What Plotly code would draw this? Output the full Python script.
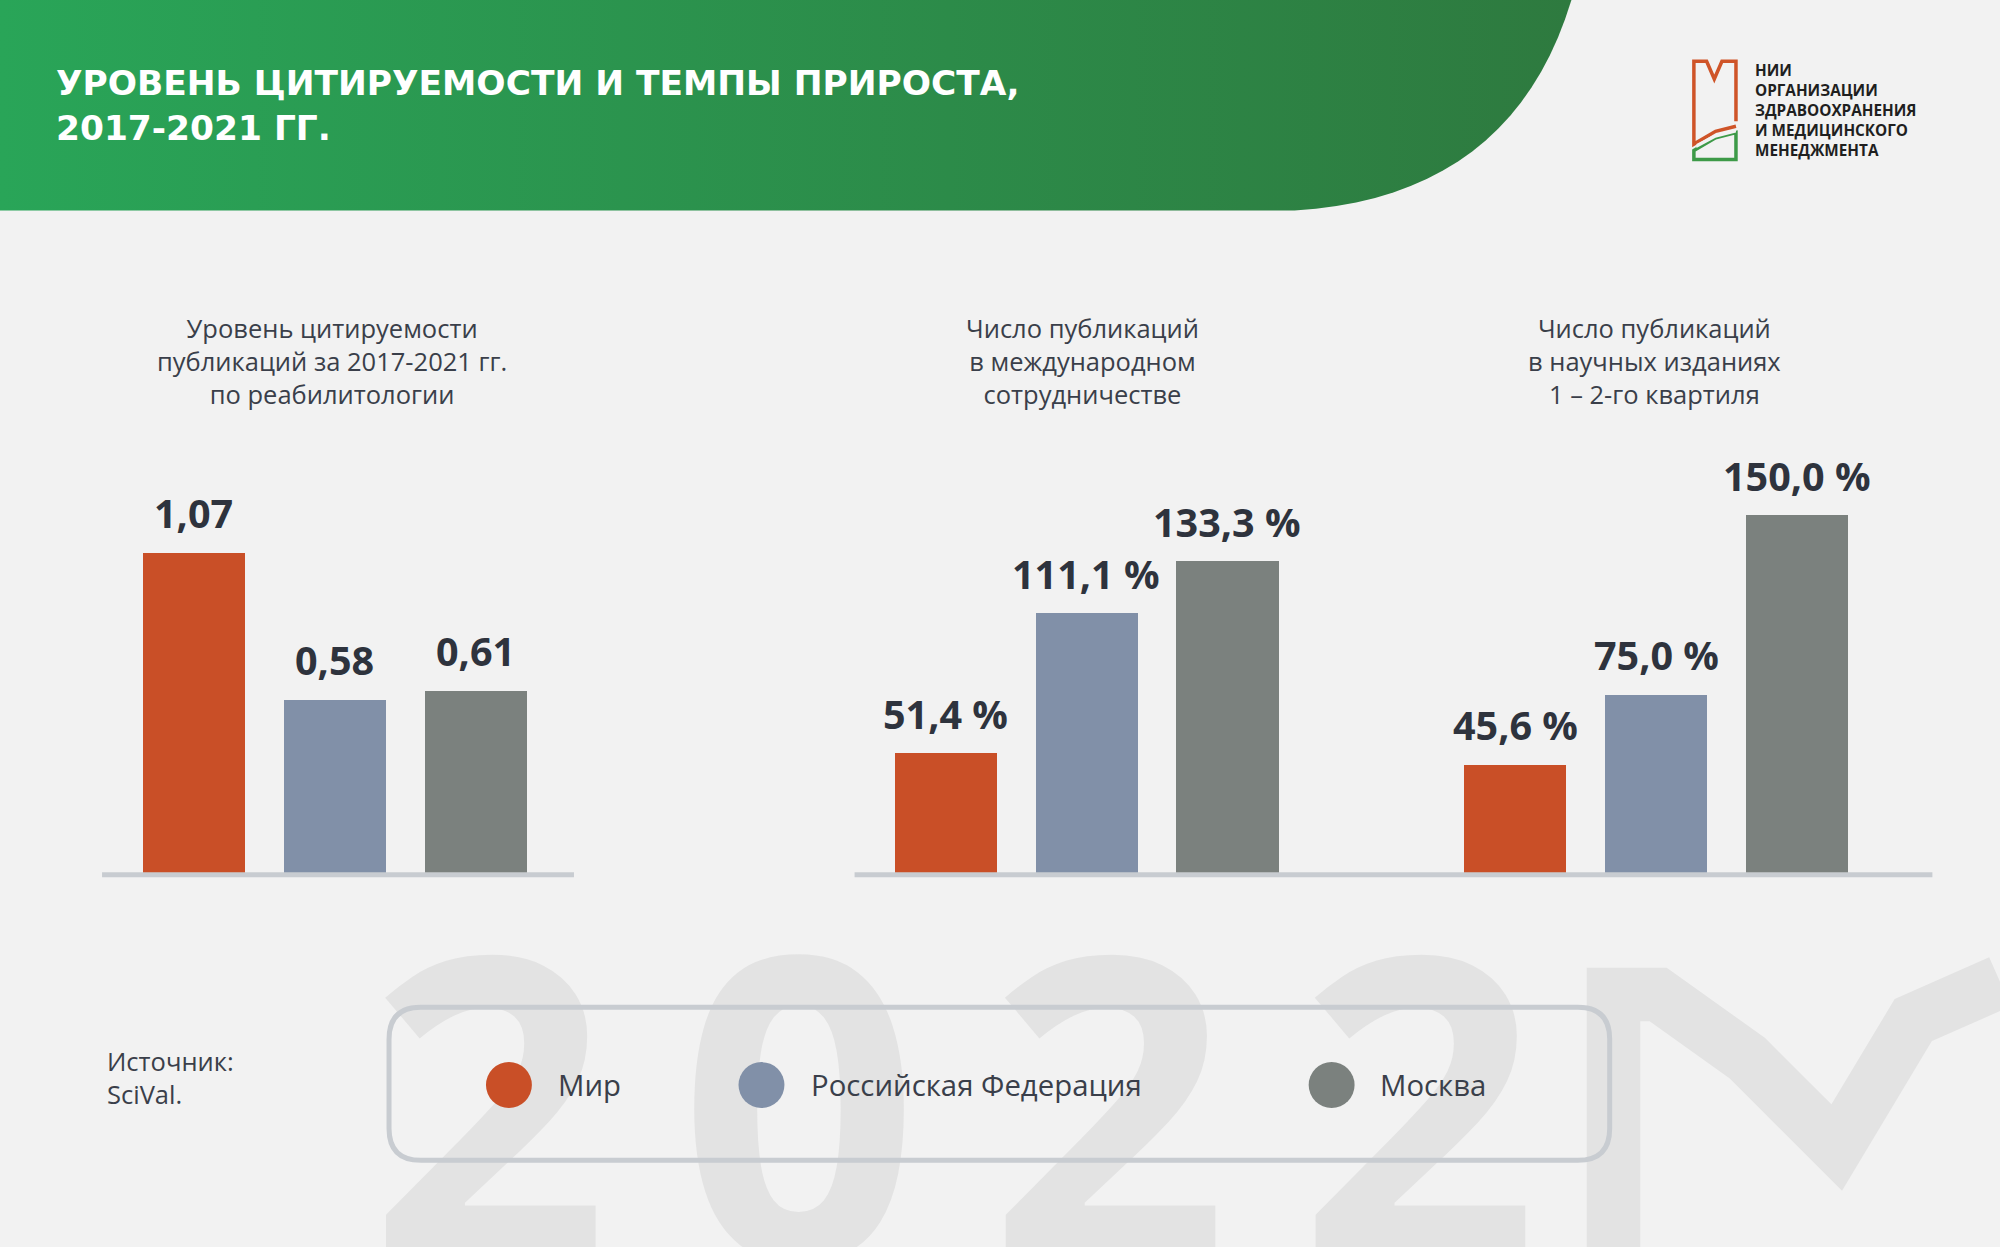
import plotly.graph_objects as go

# ---- data ----
series = ["Мир", "Российская Федерация", "Москва"]
colors = ["#c94f27", "#8190a8", "#7b817e"]
citation = [1.07, 0.58, 0.61]
citation_labels = ["1,07", "0,58", "0,61"]
intl = [51.4, 111.1, 133.3]
intl_labels = ["51,4 %", "111,1 %", "133,3 %"]
q12 = [45.6, 75.0, 150.0]
q12_labels = ["45,6 %", "75,0 %", "150,0 %"]
panel_titles = [
    "Уровень цитируемости<br>публикаций за 2017-2021 гг.<br>по реабилитологии",
    "Число публикаций<br>в международном<br>сотрудничестве",
    "Число публикаций<br>в научных изданиях<br>1 – 2-го квартиля",
]

W, H = 1568.0, 978.0
S = 2000 / W
FONT = "Open Sans"
DARK = "#2e333d"

fig = go.Figure()

pts = [(0, 0), (1232, 0)]
for i in range(1, 21):
    t = i / 20
    x = (1 - t) ** 2 * 1232 + 2 * (1 - t) * t * 1185 + t ** 2 * 1015
    y = 2 * (1 - t) * t * 155 + t ** 2 * 165
    pts.append((x, y))
pts += [(0, 165), (0, 0)]
fig.add_trace(go.Scatter(
    x=[p[0] for p in pts], y=[p[1] for p in pts], mode="lines", line=dict(width=0),
    fill="toself",
    fillgradient=dict(type="horizontal", colorscale=[[0, "#29a558"], [1, "#2e7a3f"]]),
    xaxis="x4", yaxis="y4", hoverinfo="skip", showlegend=False))

# watermark
fig.add_trace(go.Scatter(
    x=[748], y=[905], mode="text", text=["2\u20090\u20092\u20092"],
    textfont=dict(family="Open Sans", size=int(330 * S), color="#e3e3e3", weight="bold"),
    xaxis="x4", yaxis="y4", hoverinfo="skip", showlegend=False))
fig.add_trace(go.Scatter(
    x=[1265, 1265, 1300, 1370, 1440, 1500, 1568],
    y=[990, 780, 780, 830, 900, 800, 770], mode="lines",
    line=dict(color="#e3e3e3", width=42 * S),
    xaxis="x4", yaxis="y4", hoverinfo="skip", showlegend=False))

panels = [
    (citation, citation_labels, "x", "y"),
    (intl, intl_labels, "x2", "y2"),
    (q12, q12_labels, "x3", "y3"),
]
ann = []
for vals, labs, xa, ya in panels:
    fig.add_trace(go.Bar(
        x=[0, 1, 2], y=vals, width=0.724,
        marker=dict(color=colors, line=dict(width=0)),
        xaxis=xa, yaxis=ya, hoverinfo="skip", showlegend=False))
    for i, (v, l) in enumerate(zip(vals, labs)):
        ann.append(dict(xref=xa, yref=ya, x=i, y=v, text=l, showarrow=False,
                        xanchor="center", yanchor="bottom", yshift=10,
                        font=dict(family=FONT, size=31 * S, color=DARK, weight="bold")))

base_y = 1 - 685 / H
top_y = 1 - 340 / H
ax_common = dict(showgrid=False, zeroline=False, showticklabels=False, showline=False, fixedrange=True)
fig.update_layout(
    width=2000, height=1247, margin=dict(l=0, r=0, t=0, b=0),
    paper_bgcolor="#f2f2f2", plot_bgcolor="rgba(0,0,0,0)",
    bargap=0,
    xaxis=dict(domain=[80 / W, 450 / W], range=[-0.652, 2.697], **ax_common),
    yaxis=dict(domain=[base_y, top_y], range=[0, 1.465], **ax_common),
    xaxis2=dict(domain=[670 / W, 1090 / W], range=[-0.643, 3.158], **ax_common),
    yaxis2=dict(domain=[base_y, top_y], range=[0, 187.5], **ax_common),
    xaxis3=dict(domain=[1100 / W, 1515 / W], range=[-0.796, 2.96], **ax_common),
    yaxis3=dict(domain=[base_y, top_y], range=[0, 184], **ax_common),
    xaxis4=dict(domain=[0, 1], range=[0, W], **ax_common),
    yaxis4=dict(domain=[0, 1], range=[H, 0], **ax_common),
)

shapes = []
line_col = "#c8ccd1"
shapes.append(dict(type="line", xref="x4", yref="y4", x0=80, x1=450, y0=686, y1=686,
                   line=dict(color=line_col, width=5)))
shapes.append(dict(type="line", xref="x4", yref="y4", x0=670, x1=1515, y0=686, y1=686,
                   line=dict(color=line_col, width=5)))
x0, y0, x1, y1, r = 305, 790, 1262, 910, 25
path = (f"M{x0+r},{y0} L{x1-r},{y0} Q{x1},{y0} {x1},{y0+r} L{x1},{y1-r} Q{x1},{y1} {x1-r},{y1} "
        f"L{x0+r},{y1} Q{x0},{y1} {x0},{y1-r} L{x0},{y0+r} Q{x0},{y0} {x0+r},{y0} Z")
shapes.append(dict(type="path", xref="x4", yref="y4", path=path, layer="above",
                   line=dict(color="#c8ccd1", width=5), fillcolor="rgba(0,0,0,0)"))
for cx, c in zip([399, 597, 1044], colors):
    shapes.append(dict(type="circle", xref="x4", yref="y4", x0=cx - 18, x1=cx + 18, y0=833, y1=869,
                       fillcolor=c, line=dict(width=0), layer="above"))
shapes.append(dict(type="path", xref="x4", yref="y4", layer="above",
                   path="M1361,95 L1361,48 L1350,48 L1344,62 L1338,48 L1328,48 L1328,113 L1345,103 L1361,99",
                   line=dict(color="#cf5428", width=3.5), fillcolor="rgba(0,0,0,0)"))
shapes.append(dict(type="path", xref="x4", yref="y4", layer="above",
                   path="M1328,125 L1328,118 L1345,108 L1361,104 L1361,125 Z",
                   line=dict(color="#3d9a48", width=3.5), fillcolor="rgba(0,0,0,0)"))
shapes.append(dict(type="path", xref="x4", yref="y4", layer="above",
                   path="M1330,113 L1345,105 L1361,101 L1361,104 L1345,108 L1330,116 Z",
                   line=dict(width=0), fillcolor="#f2f2f2"))
fig.update_layout(shapes=shapes)

def A(x, y, text, size, color=DARK, bold=False, xanchor="left", align="left", family=FONT):
    ann.append(dict(xref="x4", yref="y4", x=x, y=y, text=text, showarrow=False,
                    xanchor=xanchor, yanchor="middle", align=align,
                    font=dict(family=family, size=size * S, color=color, weight="bold" if bold else "normal")))

A(42, 83, "УРОВЕНЬ ЦИТИРУЕМОСТИ И ТЕМПЫ ПРИРОСТА,<br>2017-2021 ГГ.", 27, color="white", bold=True,
  family="DejaVu Sans")
A(1374, 86, "НИИ<br>ОРГАНИЗАЦИИ<br>ЗДРАВООХРАНЕНИЯ<br>И МЕДИЦИНСКОГО<br>МЕНЕДЖМЕНТА", 12, color="#1f1f1f", bold=True)
for cx, t in zip([260, 849, 1297], panel_titles):
    A(cx, 283, t, 20, color="#3a3f4a", xanchor="center", align="center")
A(82, 845, "Источник:<br>SciVal.", 20, color="#3a3f4a")
for tx, t in zip([436, 634, 1080], series):
    A(tx, 851, t, 23, color="#3a3f4a")
fig.update_layout(annotations=ann)

fig.write_html("out.html", config={"displayModeBar": False},
               post_script="document.body.style.margin='0';document.body.style.background='#f2f2f2';")
